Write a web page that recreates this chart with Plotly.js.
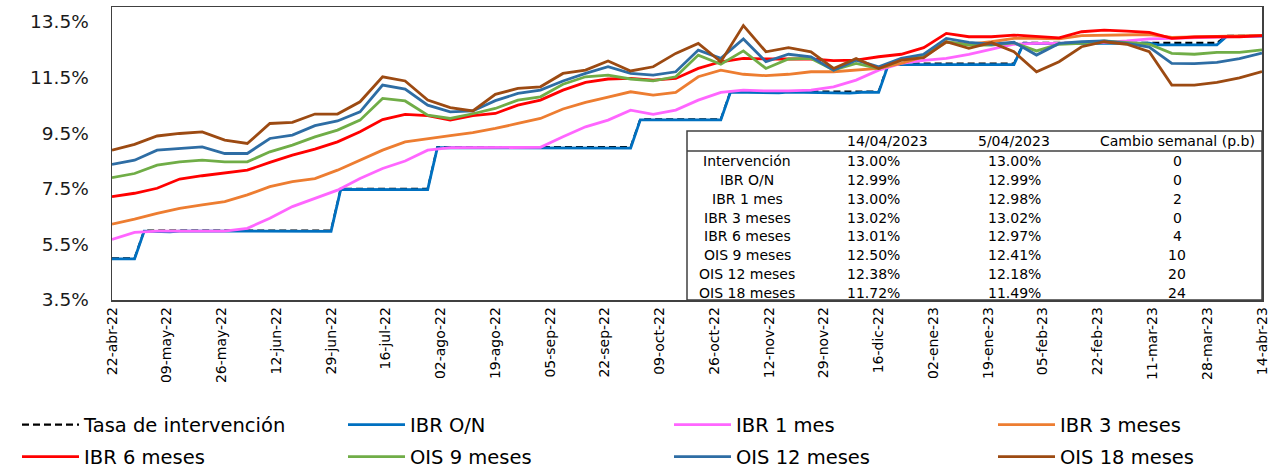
<!DOCTYPE html>
<html><head><meta charset="utf-8">
<script src="https://cdn.plot.ly/plotly-3.0.1.min.js"></script>
<style>html,body{margin:0;padding:0;background:#fff}#chart{width:1278px;height:468px}</style>
</head><body><div id="chart"></div>
<script>
// ---- Data ----
const dates = ['2022-04-22','2022-04-29','2022-05-06','2022-05-13','2022-05-20','2022-05-27','2022-06-03','2022-06-10','2022-06-17','2022-06-24',
  '2022-07-01','2022-07-08','2022-07-15','2022-07-22','2022-07-29','2022-08-05','2022-08-12','2022-08-19','2022-08-26','2022-09-02',
  '2022-09-09','2022-09-16','2022-09-23','2022-09-30','2022-10-07','2022-10-14','2022-10-21','2022-10-28','2022-11-04','2022-11-11',
  '2022-11-18','2022-11-25','2022-12-02','2022-12-09','2022-12-16','2022-12-23','2022-12-30','2023-01-06','2023-01-13','2023-01-20',
  '2023-01-27','2023-02-03','2023-02-10','2023-02-17','2023-02-24','2023-03-03','2023-03-10','2023-03-17','2023-03-24','2023-03-31',
  '2023-04-07','2023-04-14'];

const ibr1m = [5.68,5.93,5.98,5.98,5.98,5.98,6.08,6.44,6.86,7.15,
  7.45,7.87,8.23,8.50,8.89,8.98,8.98,8.98,8.98,8.99,
  9.37,9.73,9.97,10.33,10.18,10.33,10.69,10.97,11.05,11.02,
  11.02,11.05,11.17,11.41,11.77,12.01,12.12,12.19,12.34,12.53,
  12.70,12.73,12.73,12.76,12.77,12.82,12.89,12.91,12.93,12.96,
  12.98,13.00];

const ibr3m = [6.23,6.41,6.62,6.80,6.92,7.04,7.28,7.58,7.76,7.87,
  8.17,8.53,8.89,9.19,9.31,9.41,9.52,9.67,9.85,10.03,
  10.37,10.61,10.80,10.99,10.87,10.97,11.53,11.77,11.62,11.57,
  11.62,11.71,11.71,11.77,11.83,12.01,12.25,12.77,12.70,12.79,
  12.91,12.91,12.89,13.01,13.03,13.03,13.05,12.95,12.97,12.99,
  13.02,13.02];

const ibr6m = [7.22,7.34,7.52,7.85,7.97,8.08,8.17,8.45,8.71,8.93,
  9.19,9.55,9.99,10.18,10.13,9.97,10.13,10.21,10.51,10.69,
  11.05,11.33,11.45,11.47,11.41,11.47,11.83,12.07,12.19,12.17,
  12.17,12.17,12.11,12.13,12.25,12.34,12.58,13.09,12.97,12.97,
  13.03,12.97,12.93,13.15,13.21,13.17,13.13,12.91,12.96,12.97,
  12.97,13.01];

const ois9m = [7.90,8.05,8.35,8.47,8.53,8.47,8.47,8.83,9.07,9.37,
  9.61,9.97,10.75,10.66,10.15,10.03,10.20,10.39,10.69,10.81,
  11.26,11.53,11.59,11.45,11.38,11.53,12.31,11.98,12.46,11.83,
  12.17,12.19,11.77,12.01,11.83,12.13,12.31,12.79,12.67,12.67,
  12.75,12.46,12.70,12.73,12.82,12.77,12.70,12.37,12.34,12.41,
  12.41,12.50];

const ois12m = [8.38,8.53,8.89,8.95,9.01,8.77,8.77,9.31,9.43,9.77,
  9.94,10.27,11.23,11.09,10.51,10.27,10.30,10.67,10.93,11.05,
  11.38,11.65,11.89,11.65,11.59,11.71,12.49,12.19,12.89,12.07,
  12.34,12.25,11.77,12.13,11.89,12.19,12.34,12.91,12.77,12.70,
  12.77,12.31,12.73,12.79,12.82,12.73,12.60,12.01,12.00,12.05,
  12.18,12.38];

const ois18m = [8.89,9.10,9.40,9.49,9.55,9.25,9.13,9.85,9.89,10.19,
  10.19,10.63,11.53,11.38,10.69,10.42,10.30,10.90,11.11,11.17,
  11.65,11.77,12.10,11.74,11.89,12.37,12.73,12.07,13.37,12.43,
  12.58,12.43,11.83,12.19,11.83,12.13,12.22,12.79,12.55,12.76,
  12.43,11.71,12.07,12.61,12.79,12.70,12.43,11.23,11.23,11.33,
  11.49,11.72];

const tasaDates = ['2022-04-22','2022-04-29','2022-05-02','2022-06-29','2022-07-02','2022-07-29','2022-08-01','2022-09-30','2022-10-03',
  '2022-10-28','2022-10-31','2022-12-16','2022-12-19','2023-01-27','2023-01-30','2023-03-31','2023-04-03','2023-04-14'];
const tasaValues = [5.0,5.0,6.0,6.0,7.5,7.5,9.0,9.0,10.0,10.0,11.0,11.0,12.0,12.0,12.75,12.75,13.0,13.0];

const onDates = ['2022-04-22','2022-04-29','2022-05-02','2022-05-10','2022-05-13','2022-06-29','2022-07-02','2022-07-29','2022-08-01',
  '2022-09-30','2022-10-03','2022-10-28','2022-10-31','2022-11-15','2022-11-18','2022-12-07','2022-12-12','2022-12-16','2022-12-19',
  '2023-01-27','2023-01-30','2023-02-10','2023-03-10','2023-03-13','2023-03-31','2023-04-03','2023-04-14'];
const onValues = [4.98,4.98,5.98,5.95,5.98,5.97,7.48,7.47,8.98,
  8.96,9.98,9.98,10.98,10.95,10.98,10.94,10.98,10.97,11.97,
  11.97,12.73,12.72,12.74,12.68,12.68,12.98,12.99];

const tickDates = ['2022-04-22','2022-05-09','2022-05-26','2022-06-12','2022-06-29','2022-07-16','2022-08-02','2022-08-19','2022-09-05',
  '2022-09-22','2022-10-09','2022-10-26','2022-11-12','2022-11-29','2022-12-16','2023-01-02','2023-01-19','2023-02-05','2023-02-22',
  '2023-03-11','2023-03-28','2023-04-14'];
const tickLabels = ['22-abr-22','09-may-22','26-may-22','12-jun-22','29-jun-22','16-jul-22','02-ago-22','19-ago-22','05-sep-22',
  '22-sep-22','09-oct-22','26-oct-22','12-nov-22','29-nov-22','16-dic-22','02-ene-23','19-ene-23','05-feb-23','22-feb-23',
  '11-mar-23','28-mar-23','14-abr-23'];
const yTicks = [3.5,5.5,7.5,9.5,11.5,13.5];
const yTickLabels = ['3.5%','5.5%','7.5%','9.5%','11.5%','13.5%'];

const tableHeader = ['14/04/2023','5/04/2023','Cambio semanal (p.b)'];
const tableLabels = ['Intervención','IBR O/N','IBR 1 mes','IBR 3 meses','IBR 6 meses','OIS 9 meses','OIS 12 meses','OIS 18 meses'];
const tableCurrent = ['13.00%','12.99%','13.00%','13.02%','13.01%','12.50%','12.38%','11.72%'];
const tablePrevious = ['13.00%','12.99%','12.98%','13.02%','12.97%','12.41%','12.18%','11.49%'];
const tableChange = ['0','0','2','0','4','10','20','24'];

// ---- Layout helpers ----
const W = 1278, H = 468;
const M = {l:112, r:16, t:7, b:168, autoexpand:false};
const PW = W - M.l - M.r, PH = H - M.t - M.b;
const px = x => (x - M.l) / PW;
const py = y => (H - M.b - y) / PH;
const FONT = 'DejaVu Sans, Verdana, sans-serif';

// legend slots: one legend per item (4 columns x 2 rows)
const legCols = [22, 348, 674, 998];
const legRows = [425, 457];
const legendNames = ['legend','legend2','legend3','legend4','legend5','legend6','legend7','legend8'];

function line(name, x, y, color, k, extra) {
  return Object.assign({type:'scatter', mode:'lines', name, x, y, legend:legendNames[k],
    line:{color, width:2.8}, hoverinfo:'skip'}, extra || {});
}

const traces = [
  line('Tasa de intervención', tasaDates, tasaValues, '#000000', 0, {line:{color:'#000', width:2.2, dash:'7px,4px'}}),
  line('IBR O/N', onDates, onValues, '#0070C0', 1),
  line('IBR 1 mes', dates, ibr1m, '#FF66FF', 2),
  line('IBR 3 meses', dates, ibr3m, '#ED7D31', 3),
  line('IBR 6 meses', dates, ibr6m, '#FF0000', 4),
  line('OIS 9 meses', dates, ois9m, '#70AD47', 5),
  line('OIS 12 meses', dates, ois12m, '#2E6DA4', 6),
  line('OIS 18 meses', dates, ois18m, '#9C4A12', 7),
];

// table annotations
const annotations = [];
const colX = [747, 845, 1014, 1177];
const headerY = 141;
const rowY0 = 161, rowStep = 18.85;
const tfont = {family:FONT, size:14, color:'#000'};
annotations.push({xref:'paper', yref:'paper', x:px(colX[1]), y:py(headerY), xanchor:'left', yanchor:'middle', text:tableHeader[0], showarrow:false, font:tfont});
annotations.push({xref:'paper', yref:'paper', x:px(colX[2]), y:py(headerY), xanchor:'center', yanchor:'middle', text:tableHeader[1], showarrow:false, font:tfont});
annotations.push({xref:'paper', yref:'paper', x:px(colX[3]), y:py(headerY), xanchor:'center', yanchor:'middle', text:tableHeader[2], showarrow:false, font:tfont});
tableLabels.forEach((lab, i) => {
  const y = py(rowY0 + i * rowStep);
  annotations.push({xref:'paper', yref:'paper', x:px(colX[0]), y, xanchor:'center', yanchor:'middle', text:lab, showarrow:false, font:tfont});
  annotations.push({xref:'paper', yref:'paper', x:px(colX[1]), y, xanchor:'left', yanchor:'middle', text:tableCurrent[i], showarrow:false, font:tfont});
  annotations.push({xref:'paper', yref:'paper', x:px(colX[2]), y, xanchor:'center', yanchor:'middle', text:tablePrevious[i], showarrow:false, font:tfont});
  annotations.push({xref:'paper', yref:'paper', x:px(colX[3]), y, xanchor:'center', yanchor:'middle', text:tableChange[i], showarrow:false, font:tfont});
});

const shapes = [
  {type:'rect', xref:'paper', yref:'paper', x0:px(687), x1:1, y0:0, y1:py(131), fillcolor:'#ffffff', line:{color:'#404040', width:1.5}, layer:'above'},
  {type:'line', xref:'paper', yref:'paper', x0:px(687), x1:1, y0:py(151), y1:py(151), line:{color:'#404040', width:1.5}, layer:'above'}
];

const layout = {
  width:W, height:H, margin:M, paper_bgcolor:'#fff', plot_bgcolor:'#fff', showlegend:true,
  font:{family:FONT, color:'#000'},
  xaxis:{type:'date', range:['2022-04-22','2023-04-14'], tickmode:'array', tickvals:tickDates, ticktext:tickLabels,
    tickangle:-90, tickfont:{family:FONT, size:14, color:'#000'}, ticks:'', showgrid:false, zeroline:false, automargin:false,
    showline:true, mirror:true, linecolor:'#404040', linewidth:1.5, fixedrange:true},
  yaxis:{range:[3.5,14.04], tickmode:'array', tickvals:yTicks, ticktext:yTickLabels, ticks:'', ticklabelstandoff:18, automargin:false,
    tickfont:{family:FONT, size:18.5, color:'#1a1a1a'}, showgrid:false, zeroline:false,
    showline:true, mirror:true, linecolor:'#404040', linewidth:1.5, fixedrange:true},
  shapes, annotations
};
legendNames.forEach((ln, k) => {
  layout[ln] = {orientation:'h', xref:'container', yref:'container',
    x:(legCols[k % 4] - 5) / W, y:(H - legRows[Math.floor(k / 4)]) / H, xanchor:'left', yanchor:'middle',
    itemwidth:57, bgcolor:'rgba(0,0,0,0)', borderwidth:0,
    font:{family:FONT, size:19.5, color:'#000'}};
});

Plotly.newPlot('chart', traces, layout, {staticPlot:true, displayModeBar:false});
</script>
</body></html>
